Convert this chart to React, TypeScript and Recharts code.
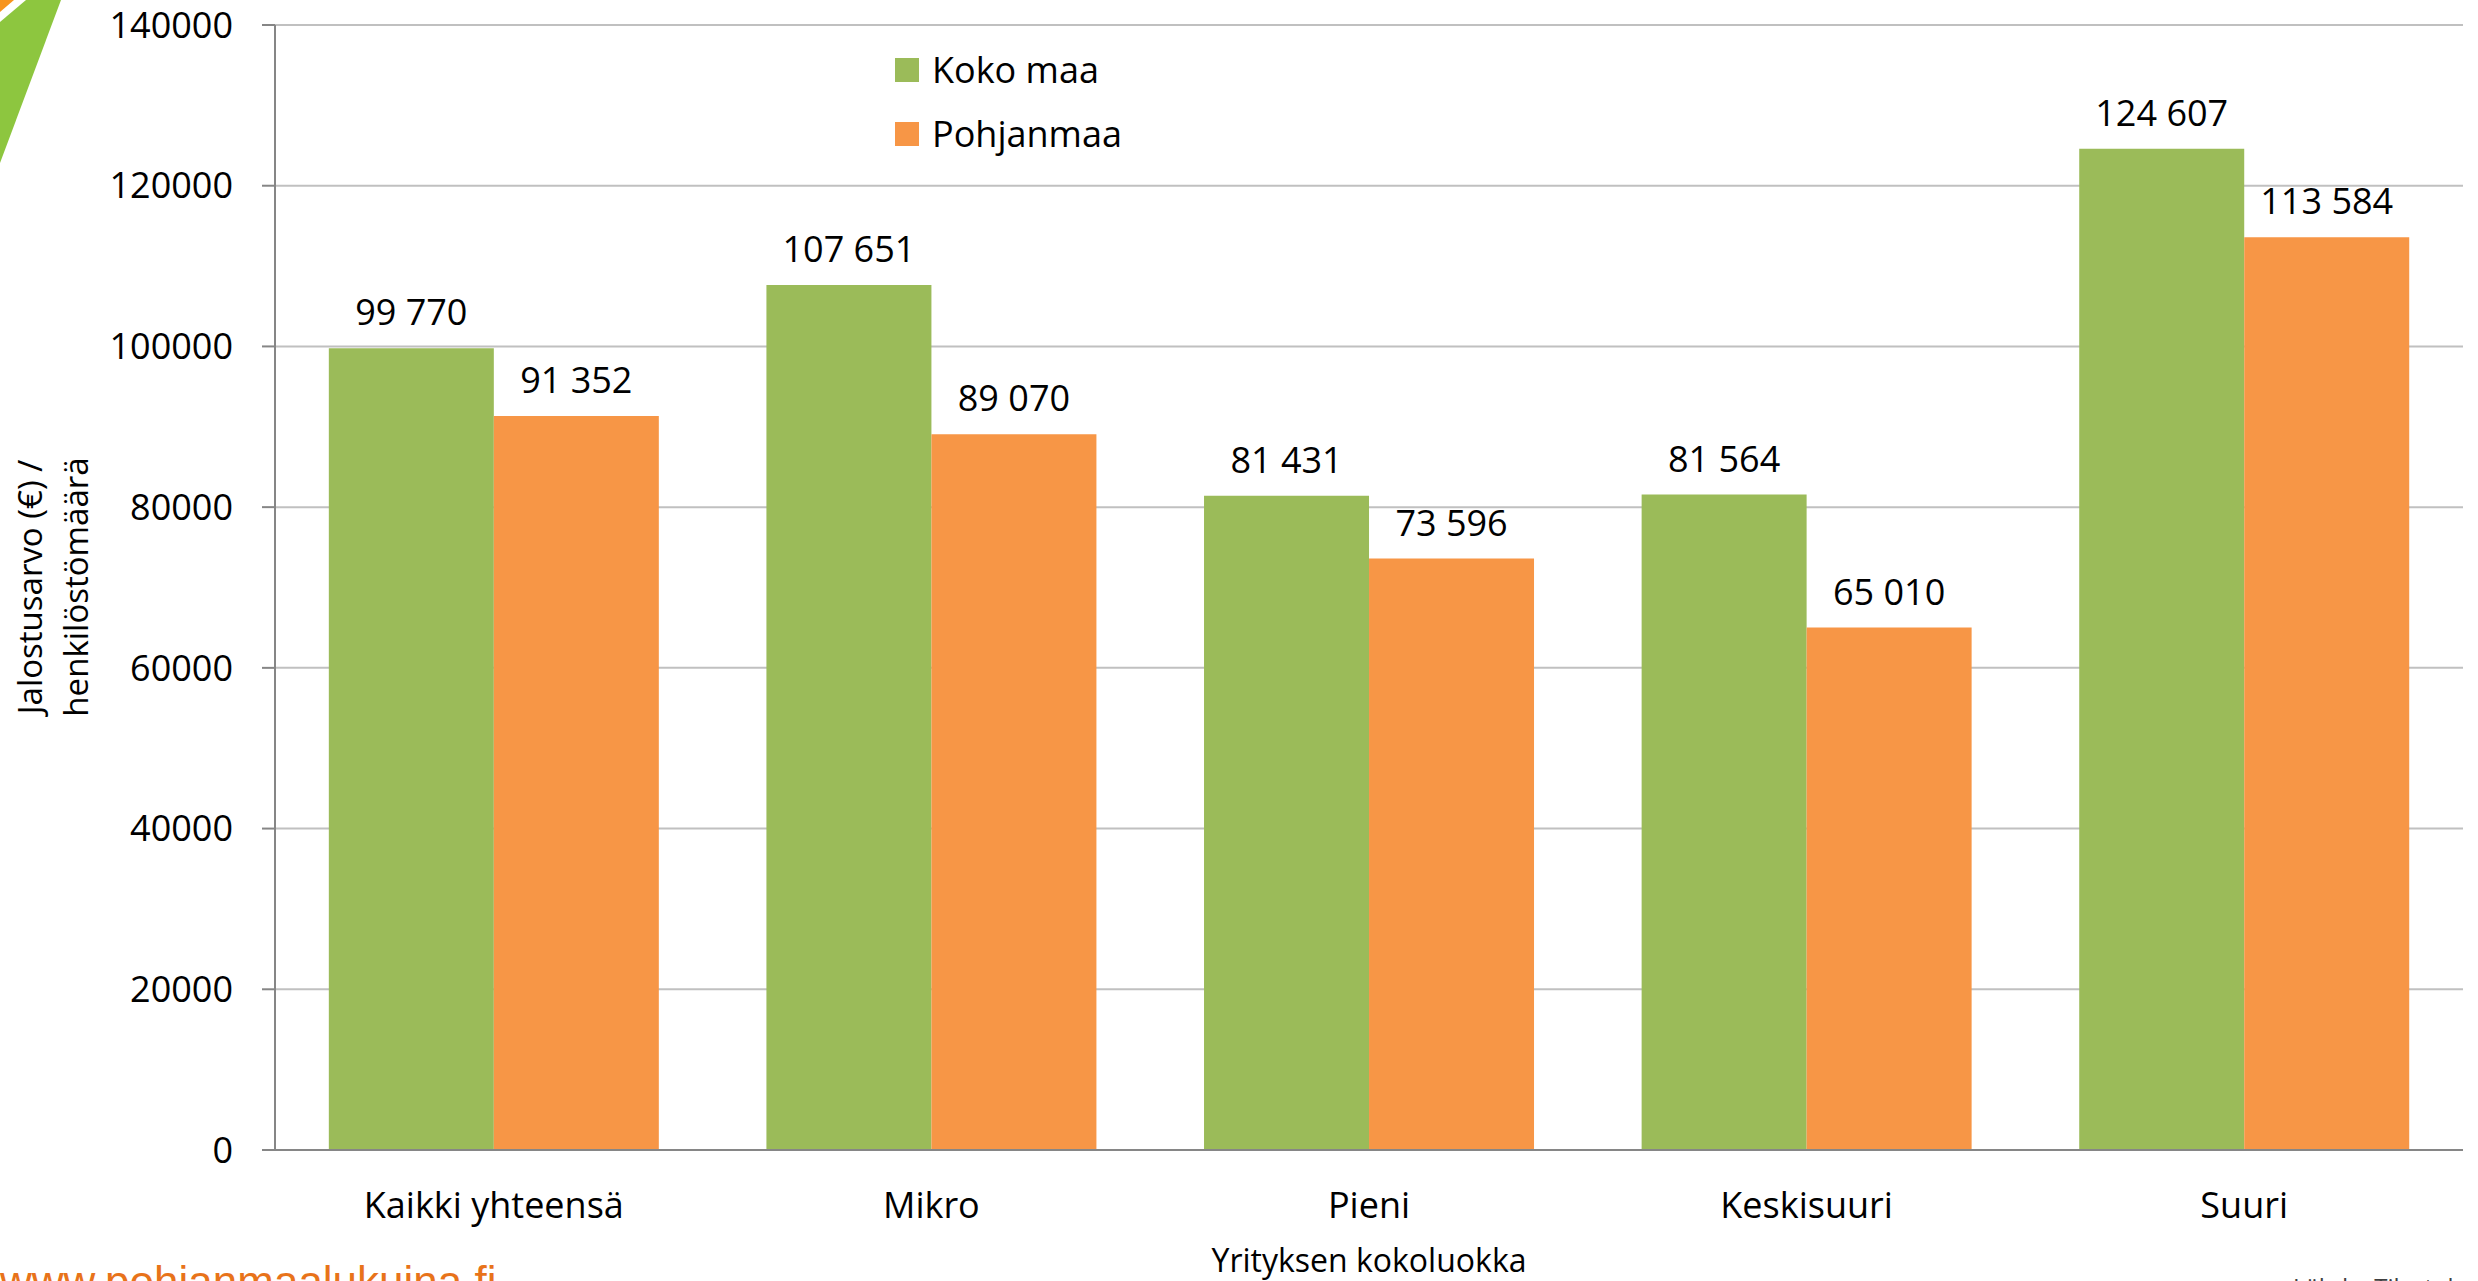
import React from 'react';
import { BarChart, Bar, XAxis, YAxis, CartesianGrid, LabelList, Legend } from 'recharts';

const categories = ['Kaikki yhteensä', 'Mikro', 'Pieni', 'Keskisuuri', 'Suuri'];
const kokoMaa = [99770, 107651, 81431, 81564, 124607];
const pohjanmaa = [91352, 89070, 73596, 65010, 113584];
const yTicks = [0, 20000, 40000, 60000, 80000, 100000, 120000, 140000];
const edgeTicks = [0, 1, 2, 3, 4, 5];
const seriesNames = ['Koko maa', 'Pohjanmaa'];

const GREEN = '#9BBB59';
const ORANGE = '#F79646';
const AXIS = '#868686';
const FONT = '"Open Sans", "Noto Sans", sans-serif';

const data = categories.map((c, i) => ({ name: c, koko: kokoMaa[i], pohj: pohjanmaa[i] }));

const fmt = (v: any) => String(v).replace(/\B(?=(\d{3})+(?!\d))/g, ' ');

const renderLegend = () => {
  const items = [
    { name: seriesNames[0], color: GREEN },
    { name: seriesNames[1], color: ORANGE },
  ];
  return (
    <div style={{ fontFamily: FONT }}>
      {items.map((it) => (
        <div key={it.name} style={{ display: 'flex', alignItems: 'center', height: 64 }}>
          <div style={{ width: 24, height: 24, background: it.color, marginRight: 13 }} />
          <span style={{ fontSize: 36, color: '#000', lineHeight: '64px' }}>{it.name}</span>
        </div>
      ))}
    </div>
  );
};

export default function App() {
  return (
    <div style={{ position: 'absolute', left: 0, top: 0, width: 2478, height: 1281, overflow: 'hidden', background: '#fff', fontFamily: FONT }}>
      <BarChart
        width={2478}
        height={1281}
        data={data}
        margin={{ top: 25, right: 15, left: 0, bottom: 0 }}
        barCategoryGap="12.3%"
        barGap={0}
      >
        <CartesianGrid vertical={false} stroke="#C0C0C0" strokeWidth={2} xAxisId={0} />
        <XAxis
          xAxisId={0}
          type="number"
          domain={[0, 5]}
          ticks={edgeTicks}
          height={1}
          axisLine={{ stroke: AXIS, strokeWidth: 2 }}
          tickLine={{ stroke: AXIS, strokeWidth: 2 }}
          tickSize={13}
          tick={false}
          interval={0}
        />
        <XAxis
          xAxisId={1}
          dataKey="name"
          height={130}
          axisLine={false}
          tickLine={false}
          tickSize={0}
          tickMargin={41}
          interval={0}
          tick={{ fontSize: 36, fill: '#000', fontFamily: FONT }}
        />
        <YAxis
          width={275}
          domain={[0, 140000]}
          ticks={yTicks}
          interval={0}
          axisLine={{ stroke: AXIS, strokeWidth: 2 }}
          tickLine={{ stroke: AXIS, strokeWidth: 2 }}
          tickSize={13}
          tickMargin={29}
          tick={{ fontSize: 36, fill: '#000', fontFamily: FONT }}
        />
        <Legend
          layout="vertical"
          align="center"
          verticalAlign="middle"
          wrapperStyle={{ left: 895, top: 38, width: 'auto', height: 'auto' }}
          content={renderLegend}
        />
        <Bar xAxisId={1} dataKey="koko" name={seriesNames[0]} fill={GREEN} isAnimationActive={false}>
          <LabelList dataKey="koko" position="top" offset={23} formatter={fmt} fill="#000" fontSize={36} fontFamily={FONT} />
        </Bar>
        <Bar xAxisId={1} dataKey="pohj" name={seriesNames[1]} fill={ORANGE} isAnimationActive={false}>
          <LabelList dataKey="pohj" position="top" offset={23} formatter={fmt} fill="#000" fontSize={36} fontFamily={FONT} />
        </Bar>
      </BarChart>
      <svg
        width={2478}
        height={1281}
        style={{ position: 'absolute', left: 0, top: 0, pointerEvents: 'none', overflow: 'hidden' }}
      >
        <polygon points="0,0 14,0 0,12" fill="#F7941D" />
        <polygon points="26,0 61,0 0,163 0,22" fill="#8DC63F" />
        <text x={0} y={0} fontSize={33} fill="#000" fontFamily={FONT} textAnchor="middle" transform="translate(42,587) rotate(-90)">
          Jalostusarvo (€) /
        </text>
        <text x={0} y={0} fontSize={33} fill="#000" fontFamily={FONT} textAnchor="middle" transform="translate(88,587) rotate(-90)">
          henkilöstömäärä
        </text>
        <text x={1369} y={1272} fontSize={32} fill="#000" fontFamily={FONT} textAnchor="middle">
          Yrityksen kokoluokka
        </text>
        <text x={0} y={1297} fontSize={44} fill="#E8731A" fontFamily='"Liberation Sans", Arial, sans-serif'>
          www.pohjanmaalukuina.fi
        </text>
        <text x={2293} y={1296} fontSize={24} fill="#404040" fontFamily={FONT}>
          Lähde: Tilastokeskus
        </text>
      </svg>
    </div>
  );
}
